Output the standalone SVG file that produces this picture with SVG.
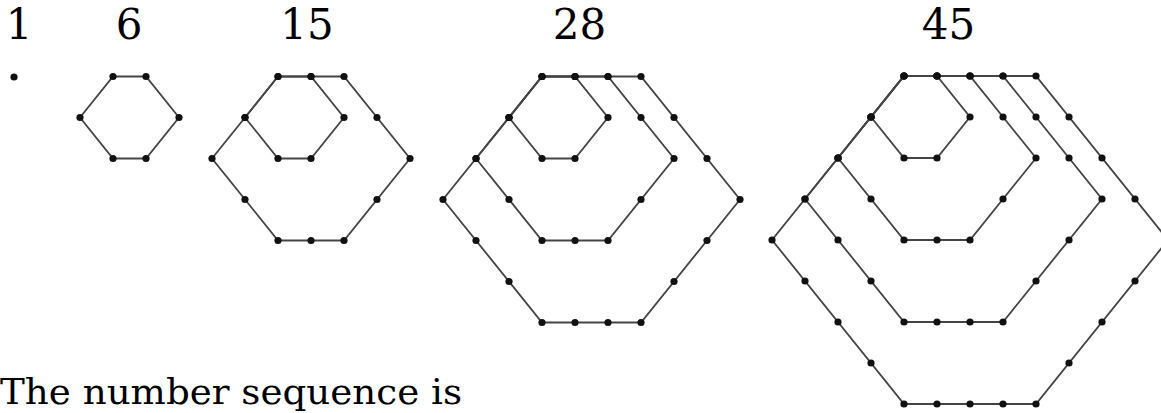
<svg xmlns="http://www.w3.org/2000/svg" xmlns:xlink="http://www.w3.org/1999/xlink" width="1161" height="413" viewBox="0 0 1161 413">
<style>
.edge{fill:none;stroke:#444;stroke-width:1.8;stroke-linejoin:miter}
.dot{fill:#111}
.num{font-family:"DejaVu Serif","Liberation Serif",serif;font-size:42px;fill:#000;text-anchor:middle}
.cap{font-family:"DejaVu Serif","Liberation Serif",serif;font-size:36px;fill:#000}
</style>
<defs>
<path id="l1" class="edge" d="M0,0 H33 L66,41 L33,82 H0 L-33,41 Z"/>
<path id="l2" class="edge" d="M0,0 H66 L132,82 L66,164 H0 L-66,82 Z"/>
<path id="l3" class="edge" d="M0,0 H99 L198,123 L99,246 H0 L-99,123 Z"/>
<path id="l4" class="edge" d="M0,0 H132 L264,164 L132,328 H0 L-132,164 Z"/>
<circle id="p" class="dot" r="3.6"/>
<g id="d1">
<use xlink:href="#p" x="0" y="0"/><use xlink:href="#p" x="33" y="0"/><use xlink:href="#p" x="66" y="41"/>
<use xlink:href="#p" x="33" y="82"/><use xlink:href="#p" x="0" y="82"/><use xlink:href="#p" x="-33" y="41"/>
</g>
<g id="d2">
<use xlink:href="#p" x="0" y="0"/><use xlink:href="#p" x="33" y="0"/><use xlink:href="#p" x="66" y="0"/>
<use xlink:href="#p" x="99" y="41"/><use xlink:href="#p" x="132" y="82"/>
<use xlink:href="#p" x="99" y="123"/><use xlink:href="#p" x="66" y="164"/>
<use xlink:href="#p" x="33" y="164"/><use xlink:href="#p" x="0" y="164"/>
<use xlink:href="#p" x="-33" y="123"/><use xlink:href="#p" x="-66" y="82"/><use xlink:href="#p" x="-33" y="41"/>
</g>
<g id="d3">
<use xlink:href="#p" x="0" y="0"/><use xlink:href="#p" x="33" y="0"/><use xlink:href="#p" x="66" y="0"/><use xlink:href="#p" x="99" y="0"/>
<use xlink:href="#p" x="132" y="41"/><use xlink:href="#p" x="165" y="82"/><use xlink:href="#p" x="198" y="123"/>
<use xlink:href="#p" x="165" y="164"/><use xlink:href="#p" x="132" y="205"/><use xlink:href="#p" x="99" y="246"/>
<use xlink:href="#p" x="66" y="246"/><use xlink:href="#p" x="33" y="246"/><use xlink:href="#p" x="0" y="246"/>
<use xlink:href="#p" x="-33" y="205"/><use xlink:href="#p" x="-66" y="164"/><use xlink:href="#p" x="-99" y="123"/>
<use xlink:href="#p" x="-66" y="82"/><use xlink:href="#p" x="-33" y="41"/>
</g>
<g id="d4">
<use xlink:href="#p" x="0" y="0"/><use xlink:href="#p" x="33" y="0"/><use xlink:href="#p" x="66" y="0"/><use xlink:href="#p" x="99" y="0"/><use xlink:href="#p" x="132" y="0"/>
<use xlink:href="#p" x="165" y="41"/><use xlink:href="#p" x="198" y="82"/><use xlink:href="#p" x="231" y="123"/><use xlink:href="#p" x="264" y="164"/>
<use xlink:href="#p" x="231" y="205"/><use xlink:href="#p" x="198" y="246"/><use xlink:href="#p" x="165" y="287"/><use xlink:href="#p" x="132" y="328"/>
<use xlink:href="#p" x="99" y="328"/><use xlink:href="#p" x="66" y="328"/><use xlink:href="#p" x="33" y="328"/><use xlink:href="#p" x="0" y="328"/>
<use xlink:href="#p" x="-33" y="287"/><use xlink:href="#p" x="-66" y="246"/><use xlink:href="#p" x="-99" y="205"/><use xlink:href="#p" x="-132" y="164"/>
<use xlink:href="#p" x="-99" y="123"/><use xlink:href="#p" x="-66" y="82"/><use xlink:href="#p" x="-33" y="41"/>
</g>
</defs>
<rect width="1161" height="413" fill="#fff"/>

<g id="fig1">
<text class="num" x="19" y="39">1</text>
<circle class="dot" cx="14" cy="77" r="3.6"/>
</g>

<g id="fig6">
<text class="num" x="129" y="39">6</text>
<g transform="translate(113,76.5)">
<use xlink:href="#l1"/>
<use xlink:href="#d1"/>
</g>
</g>

<g id="fig15">
<text class="num" x="307" y="39">15</text>
<g transform="translate(278,76.5)">
<use xlink:href="#l1"/><use xlink:href="#l2"/>
<use xlink:href="#d1"/><use xlink:href="#d2"/>
</g>
</g>

<g id="fig28">
<text class="num" x="579.5" y="39">28</text>
<g transform="translate(542,76.5)">
<use xlink:href="#l1"/><use xlink:href="#l2"/><use xlink:href="#l3"/>
<use xlink:href="#d1"/><use xlink:href="#d2"/><use xlink:href="#d3"/>
</g>
</g>

<g id="fig45">
<text class="num" x="948.5" y="39">45</text>
<g transform="translate(904,76)">
<use xlink:href="#l1"/><use xlink:href="#l2"/><use xlink:href="#l3"/><use xlink:href="#l4"/>
<use xlink:href="#d1"/><use xlink:href="#d2"/><use xlink:href="#d3"/><use xlink:href="#d4"/>
</g>
</g>

<text id="caption" class="cap" x="0" y="404" textLength="462" lengthAdjust="spacingAndGlyphs">The number sequence is</text>
</svg>
